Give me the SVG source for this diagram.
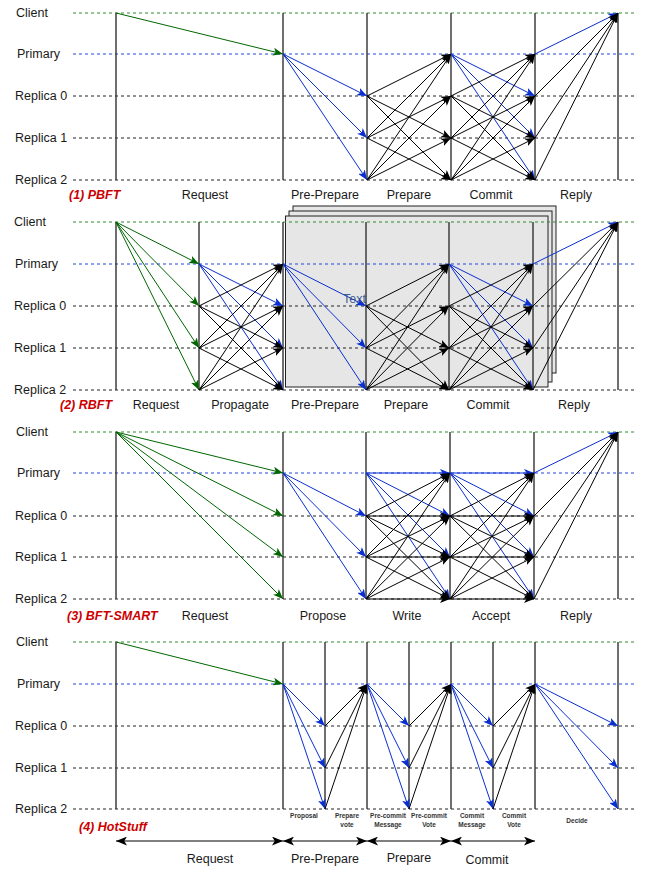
<svg xmlns="http://www.w3.org/2000/svg" width="648" height="869" viewBox="0 0 648 869">
<style>
text{font-family:"Liberation Sans",Arial,sans-serif;font-size:12.5px;fill:#1a1a1a}
.ph{text-anchor:middle}
.ttl{fill:#cc0000;font-weight:bold;font-style:italic}
.sm{font-size:6.5px;font-weight:bold;fill:#333;text-anchor:middle}
.dg{stroke:#2e8b2e;stroke-width:1;stroke-dasharray:3 3;fill:none}
.db{stroke:#2244dd;stroke-width:1;stroke-dasharray:3 3;fill:none}
.dk{stroke:#222;stroke-width:1;stroke-dasharray:3 3;fill:none}
.v{stroke:#333;stroke-width:1.4;fill:none}
.k line{stroke:#000;stroke-width:1;marker-end:url(#mk)}
.b line{stroke:#0a2fd0;stroke-width:1;marker-end:url(#mb)}
.g line{stroke:#006600;stroke-width:1;marker-end:url(#mg)}
.bi line{stroke:#000;stroke-width:1.2;marker-start:url(#mk2);marker-end:url(#mk2)}
</style>
<defs>
<marker id="mk" viewBox="0 0 10 8" markerWidth="10" markerHeight="8" markerUnits="userSpaceOnUse" refX="10" refY="4" orient="auto"><path d="M0,0 L10,4 L0,8 L2.5,4 z" fill="#000"/></marker>
<marker id="mb" viewBox="0 0 10 8" markerWidth="10" markerHeight="8" markerUnits="userSpaceOnUse" refX="10" refY="4" orient="auto"><path d="M0,0 L10,4 L0,8 L2.5,4 z" fill="#0a2fd0"/></marker>
<marker id="mg" viewBox="0 0 10 8" markerWidth="10" markerHeight="8" markerUnits="userSpaceOnUse" refX="10" refY="4" orient="auto"><path d="M0,0 L10,4 L0,8 L2.5,4 z" fill="#006600"/></marker>
<marker id="mk2" viewBox="0 0 10 8" markerWidth="11" markerHeight="9" markerUnits="userSpaceOnUse" refX="10" refY="4" orient="auto-start-reverse"><path d="M0,0 L10,4 L0,8 L2.5,4 z" fill="#000"/></marker>
</defs>
<rect width="648" height="869" fill="#fff"/>

<g id="rbft-stack" stroke="#222" stroke-width="1" fill="#e6e6e6">
<rect x="293" y="206" width="263" height="167"/>
<rect x="289" y="211" width="263" height="171"/>
<rect x="285.5" y="216" width="262.5" height="171"/>
</g>

<g id="timelines">
<path class="dg" d="M73,13H637"/><path class="db" d="M73,54H637"/><path class="dk" d="M73,96H637M73,138H637M73,180H637"/>
<path class="dg" d="M73,222H637"/><path class="db" d="M73,264H637"/><path class="dk" d="M73,306H637M73,348H637M73,390H637"/>
<path class="dg" d="M73,432H637"/><path class="db" d="M73,473H637"/><path class="dk" d="M73,516H637M73,557H637M73,599H637"/>
<path class="dg" d="M73,642H637"/><path class="db" d="M73,684H637"/><path class="dk" d="M73,726H637M73,768H637M73,809H637"/>
</g>
<g id="phase-bars">
<path class="v" d="M116,13V180M283,13V180M367,13V180M451,13V180M535,13V180M618,13V180"/>
<path class="v" d="M116,222V390M199,222V390M283,222V390M366,222V390M449,222V390M533,222V390M618,222V390"/>
<path class="v" d="M116,432V599M283,432V599M366,432V599M450,432V599M534,432V599M618,432V599"/>
<path class="v" d="M116,642V809M283,642V809M325,642V809M367,642V809M409,642V809M451,642V809M493,642V809M535,642V809M618,642V809"/>
</g>

<g id="rows-1"><text x="16" y="17">Client</text><text x="17" y="58">Primary</text><text x="15" y="100">Replica 0</text><text x="15" y="142">Replica 1</text><text x="15" y="184">Replica 2</text></g>
<g id="rows-2"><text x="14" y="226">Client</text><text x="15" y="268">Primary</text><text x="14" y="310">Replica 0</text><text x="14" y="352">Replica 1</text><text x="14" y="394">Replica 2</text></g>
<g id="rows-3"><text x="16" y="436">Client</text><text x="17" y="477">Primary</text><text x="15" y="520">Replica 0</text><text x="15" y="561">Replica 1</text><text x="15" y="603">Replica 2</text></g>
<g id="rows-4"><text x="16" y="646">Client</text><text x="17" y="688">Primary</text><text x="15" y="730">Replica 0</text><text x="15" y="772">Replica 1</text><text x="15" y="813">Replica 2</text></g>

<g id="labels-1"><text class="ttl" x="69" y="199">(1) PBFT</text><text class="ph" x="205" y="199">Request</text><text class="ph" x="325" y="199">Pre-Prepare</text><text class="ph" x="409" y="199">Prepare</text><text class="ph" x="491" y="199">Commit</text><text class="ph" x="576" y="199">Reply</text></g>
<g id="labels-2"><text class="ttl" x="60" y="409">(2) RBFT</text><text class="ph" x="156" y="409">Request</text><text class="ph" x="240" y="409">Propagate</text><text class="ph" x="325" y="409">Pre-Prepare</text><text class="ph" x="406" y="409">Prepare</text><text class="ph" x="488" y="409">Commit</text><text class="ph" x="574" y="409">Reply</text></g>
<g id="labels-3"><text class="ttl" x="67" y="620">(3) BFT-SMART</text><text class="ph" x="205" y="620">Request</text><text class="ph" x="323" y="620">Propose</text><text class="ph" x="407" y="620">Write</text><text class="ph" x="491" y="620">Accept</text><text class="ph" x="576" y="620">Reply</text></g>
<g id="labels-4"><text class="ttl" x="79" y="831">(4) HotStuff</text>
<text class="sm" x="304" y="818">Proposal</text>
<text class="sm" x="347" y="818">Prepare</text><text class="sm" x="347" y="827">vote</text>
<text class="sm" x="388" y="818">Pre-commit</text><text class="sm" x="388" y="827">Message</text>
<text class="sm" x="429" y="818">Pre-commit</text><text class="sm" x="429" y="827">Vote</text>
<text class="sm" x="472" y="818">Commit</text><text class="sm" x="472" y="827">Message</text>
<text class="sm" x="514" y="818">Commit</text><text class="sm" x="514" y="827">Vote</text>
<text class="sm" x="577" y="823">Decide</text>
<text class="ph" x="210" y="863">Request</text><text class="ph" x="325" y="863">Pre-Prepare</text><text class="ph" x="409" y="862">Prepare</text><text class="ph" x="487" y="864">Commit</text></g>

<g id="connectors">
<g class="g"><line x1="116" y1="13" x2="283" y2="54"/></g>
<g class="b"><line x1="283" y1="54" x2="367" y2="96"/><line x1="283" y1="54" x2="367" y2="138"/><line x1="283" y1="54" x2="367" y2="180"/></g>
<g class="k">
<line x1="367" y1="96" x2="451" y2="54"/><line x1="367" y1="96" x2="451" y2="138"/><line x1="367" y1="96" x2="451" y2="180"/>
<line x1="367" y1="138" x2="451" y2="54"/><line x1="367" y1="138" x2="451" y2="96"/><line x1="367" y1="138" x2="451" y2="180"/>
<line x1="367" y1="180" x2="451" y2="54"/><line x1="367" y1="180" x2="451" y2="96"/><line x1="367" y1="180" x2="451" y2="138"/>
</g>
<g class="b"><line x1="451" y1="54" x2="535" y2="96"/><line x1="451" y1="54" x2="535" y2="138"/><line x1="451" y1="54" x2="535" y2="180"/></g>
<g class="k">
<line x1="451" y1="96" x2="535" y2="54"/><line x1="451" y1="96" x2="535" y2="138"/><line x1="451" y1="96" x2="535" y2="180"/>
<line x1="451" y1="138" x2="535" y2="54"/><line x1="451" y1="138" x2="535" y2="96"/><line x1="451" y1="138" x2="535" y2="180"/>
<line x1="451" y1="180" x2="535" y2="54"/><line x1="451" y1="180" x2="535" y2="96"/><line x1="451" y1="180" x2="535" y2="138"/>
</g>
<g class="b"><line x1="535" y1="54" x2="618" y2="13"/></g>
<g class="k"><line x1="535" y1="96" x2="618" y2="13"/><line x1="535" y1="138" x2="618" y2="13"/><line x1="535" y1="180" x2="618" y2="13"/></g>
<g class="g"><line x1="116" y1="222" x2="199" y2="264"/><line x1="116" y1="222" x2="199" y2="306"/><line x1="116" y1="222" x2="199" y2="348"/><line x1="116" y1="222" x2="199" y2="390"/></g>
<g class="b"><line x1="199" y1="264" x2="283" y2="306"/><line x1="199" y1="264" x2="283" y2="348"/><line x1="199" y1="264" x2="283" y2="390"/></g>
<g class="k">
<line x1="199" y1="306" x2="283" y2="264"/><line x1="199" y1="306" x2="283" y2="348"/><line x1="199" y1="306" x2="283" y2="390"/>
<line x1="199" y1="348" x2="283" y2="264"/><line x1="199" y1="348" x2="283" y2="306"/><line x1="199" y1="348" x2="283" y2="390"/>
<line x1="199" y1="390" x2="283" y2="264"/><line x1="199" y1="390" x2="283" y2="306"/><line x1="199" y1="390" x2="283" y2="348"/>
</g>
<g class="b"><line x1="283" y1="264" x2="366" y2="306"/><line x1="283" y1="264" x2="366" y2="348"/><line x1="283" y1="264" x2="366" y2="390"/></g>
<g class="k">
<line x1="366" y1="306" x2="449" y2="264"/><line x1="366" y1="306" x2="449" y2="348"/><line x1="366" y1="306" x2="449" y2="390"/>
<line x1="366" y1="348" x2="449" y2="264"/><line x1="366" y1="348" x2="449" y2="306"/><line x1="366" y1="348" x2="449" y2="390"/>
<line x1="366" y1="390" x2="449" y2="264"/><line x1="366" y1="390" x2="449" y2="306"/><line x1="366" y1="390" x2="449" y2="348"/>
</g>
<g class="b"><line x1="449" y1="264" x2="533" y2="306"/><line x1="449" y1="264" x2="533" y2="348"/><line x1="449" y1="264" x2="533" y2="390"/></g>
<g class="k">
<line x1="449" y1="306" x2="533" y2="264"/><line x1="449" y1="306" x2="533" y2="348"/><line x1="449" y1="306" x2="533" y2="390"/>
<line x1="449" y1="348" x2="533" y2="264"/><line x1="449" y1="348" x2="533" y2="306"/><line x1="449" y1="348" x2="533" y2="390"/>
<line x1="449" y1="390" x2="533" y2="264"/><line x1="449" y1="390" x2="533" y2="306"/><line x1="449" y1="390" x2="533" y2="348"/>
</g>
<g class="b"><line x1="533" y1="264" x2="618" y2="222"/></g>
<g class="k"><line x1="533" y1="306" x2="618" y2="222"/><line x1="533" y1="348" x2="618" y2="222"/><line x1="533" y1="390" x2="618" y2="222"/></g>
<g class="g"><line x1="116" y1="432" x2="283" y2="473"/><line x1="116" y1="432" x2="283" y2="516"/><line x1="116" y1="432" x2="283" y2="557"/><line x1="116" y1="432" x2="283" y2="599"/></g>
<g class="b"><line x1="283" y1="473" x2="366" y2="516"/><line x1="283" y1="473" x2="366" y2="557"/><line x1="283" y1="473" x2="366" y2="599"/></g>
<g class="b"><line x1="366" y1="473" x2="450" y2="473"/><line x1="366" y1="473" x2="450" y2="516"/><line x1="366" y1="473" x2="450" y2="557"/><line x1="366" y1="473" x2="450" y2="599"/></g>
<g class="k">
<line x1="366" y1="516" x2="450" y2="473"/><line x1="366" y1="516" x2="450" y2="516"/><line x1="366" y1="516" x2="450" y2="557"/><line x1="366" y1="516" x2="450" y2="599"/>
<line x1="366" y1="557" x2="450" y2="473"/><line x1="366" y1="557" x2="450" y2="516"/><line x1="366" y1="557" x2="450" y2="557"/><line x1="366" y1="557" x2="450" y2="599"/>
<line x1="366" y1="599" x2="450" y2="473"/><line x1="366" y1="599" x2="450" y2="516"/><line x1="366" y1="599" x2="450" y2="557"/><line x1="366" y1="599" x2="450" y2="599"/>
</g>
<g class="b"><line x1="450" y1="473" x2="534" y2="473"/><line x1="450" y1="473" x2="534" y2="516"/><line x1="450" y1="473" x2="534" y2="557"/><line x1="450" y1="473" x2="534" y2="599"/></g>
<g class="k">
<line x1="450" y1="516" x2="534" y2="473"/><line x1="450" y1="516" x2="534" y2="516"/><line x1="450" y1="516" x2="534" y2="557"/><line x1="450" y1="516" x2="534" y2="599"/>
<line x1="450" y1="557" x2="534" y2="473"/><line x1="450" y1="557" x2="534" y2="516"/><line x1="450" y1="557" x2="534" y2="557"/><line x1="450" y1="557" x2="534" y2="599"/>
<line x1="450" y1="599" x2="534" y2="473"/><line x1="450" y1="599" x2="534" y2="516"/><line x1="450" y1="599" x2="534" y2="557"/><line x1="450" y1="599" x2="534" y2="599"/>
</g>
<g class="b"><line x1="534" y1="473" x2="618" y2="432"/></g>
<g class="k"><line x1="534" y1="516" x2="618" y2="432"/><line x1="534" y1="557" x2="618" y2="432"/><line x1="534" y1="599" x2="618" y2="432"/></g>
<g class="g"><line x1="116" y1="642" x2="283" y2="684"/></g>
<g class="b"><line x1="283" y1="684" x2="325" y2="726"/><line x1="283" y1="684" x2="325" y2="768"/><line x1="283" y1="684" x2="325" y2="809"/></g>
<g class="k"><line x1="325" y1="726" x2="367" y2="684"/><line x1="325" y1="768" x2="367" y2="684"/><line x1="325" y1="809" x2="367" y2="684"/></g>
<g class="b"><line x1="367" y1="684" x2="409" y2="726"/><line x1="367" y1="684" x2="409" y2="768"/><line x1="367" y1="684" x2="409" y2="809"/></g>
<g class="k"><line x1="409" y1="726" x2="451" y2="684"/><line x1="409" y1="768" x2="451" y2="684"/><line x1="409" y1="809" x2="451" y2="684"/></g>
<g class="b"><line x1="451" y1="684" x2="493" y2="726"/><line x1="451" y1="684" x2="493" y2="768"/><line x1="451" y1="684" x2="493" y2="809"/></g>
<g class="k"><line x1="493" y1="726" x2="535" y2="684"/><line x1="493" y1="768" x2="535" y2="684"/><line x1="493" y1="809" x2="535" y2="684"/></g>
<g class="b"><line x1="535" y1="684" x2="618" y2="726"/><line x1="535" y1="684" x2="618" y2="768"/><line x1="535" y1="684" x2="618" y2="809"/></g>
<g class="bi"><line x1="116" y1="841" x2="283" y2="841"/><line x1="283" y1="841" x2="367" y2="841"/><line x1="367" y1="841" x2="451" y2="841"/><line x1="451" y1="841" x2="535" y2="841"/></g>
</g>
<g id="stray-text"><text x="343" y="303" style="fill:#2a4f88;fill-opacity:0.9">Text</text></g>
</svg>
